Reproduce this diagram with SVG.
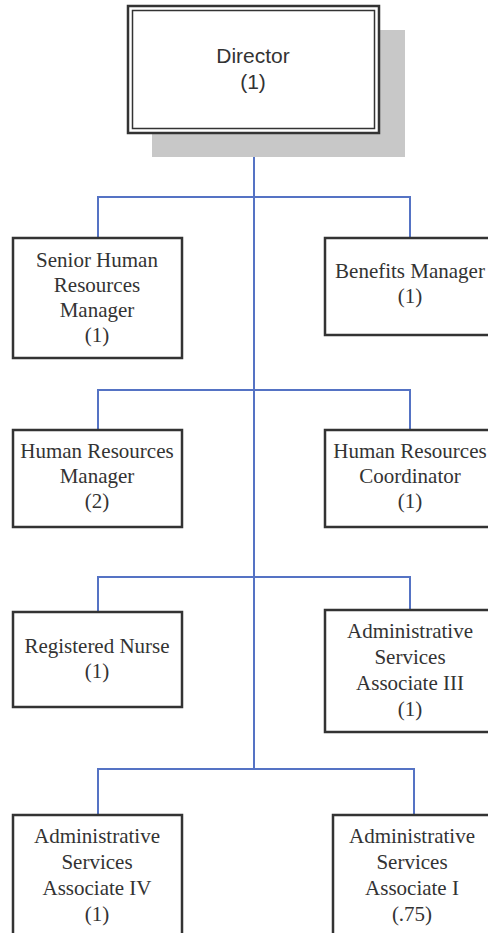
<svg xmlns="http://www.w3.org/2000/svg" width="488" height="933" viewBox="0 0 488 933">
  <style>
    .box { fill: #ffffff; stroke: #333333; stroke-width: 2.5; }
    .conn { fill: none; stroke: #5573c4; stroke-width: 2; }
    .t { font-family: "Liberation Serif", "Times New Roman", serif; font-size: 21px; fill: #333333; text-anchor: middle; }
    .ts { font-family: "Liberation Sans", Arial, sans-serif; font-size: 21px; fill: #333333; text-anchor: middle; }
  </style>
  <rect width="488" height="933" fill="#ffffff"/>

  <!-- connectors -->
  <g id="connectors">
    <path class="conn" d="M254 133 V769"/>
    <path class="conn" d="M98 238 V197 H410 V238"/>
    <path class="conn" d="M98 430 V390 H410 V430"/>
    <path class="conn" d="M98 612 V577 H410 V610"/>
    <path class="conn" d="M98 815 V769 H414 V815"/>
  </g>

  <!-- Director -->
  <g id="director">
    <rect x="152" y="30" width="253" height="127" fill="#c8c8c8"/>
    <rect x="128" y="6" width="251" height="127" fill="#ffffff" stroke="#333333" stroke-width="2.5"/>
    <rect x="132.5" y="10.5" width="242" height="118" fill="none" stroke="#333333" stroke-width="1.5"/>
    <text class="ts" x="253" y="63">Director</text>
    <text class="ts" x="253" y="89">(1)</text>
  </g>

  <g id="senior-hr-manager">
    <rect class="box" x="13" y="238" width="169" height="120"/>
    <text class="t" x="97" y="267">Senior Human</text>
    <text class="t" x="97" y="292">Resources</text>
    <text class="t" x="97" y="317">Manager</text>
    <text class="t" x="97" y="342">(1)</text>
  </g>

  <g id="benefits-manager">
    <rect class="box" x="325" y="238" width="170" height="97"/>
    <text class="t" x="410" y="278">Benefits Manager</text>
    <text class="t" x="410" y="303">(1)</text>
  </g>

  <g id="hr-manager">
    <rect class="box" x="13" y="430" width="169" height="97"/>
    <text class="t" x="97" y="458">Human Resources</text>
    <text class="t" x="97" y="483">Manager</text>
    <text class="t" x="97" y="508">(2)</text>
  </g>

  <g id="hr-coordinator">
    <rect class="box" x="325" y="430" width="170" height="97"/>
    <text class="t" x="410" y="458">Human Resources</text>
    <text class="t" x="410" y="483">Coordinator</text>
    <text class="t" x="410" y="508">(1)</text>
  </g>

  <g id="registered-nurse">
    <rect class="box" x="13" y="612" width="169" height="95"/>
    <text class="t" x="97" y="653">Registered Nurse</text>
    <text class="t" x="97" y="678">(1)</text>
  </g>

  <g id="asa-iii">
    <rect class="box" x="325" y="610" width="170" height="122"/>
    <text class="t" x="410" y="638">Administrative</text>
    <text class="t" x="410" y="664">Services</text>
    <text class="t" x="410" y="690">Associate III</text>
    <text class="t" x="410" y="716">(1)</text>
  </g>

  <g id="asa-iv">
    <rect class="box" x="13" y="815" width="169" height="130"/>
    <text class="t" x="97" y="843">Administrative</text>
    <text class="t" x="97" y="869">Services</text>
    <text class="t" x="97" y="895">Associate IV</text>
    <text class="t" x="97" y="921">(1)</text>
  </g>

  <g id="asa-i">
    <rect class="box" x="333" y="815" width="170" height="130"/>
    <text class="t" x="412" y="843">Administrative</text>
    <text class="t" x="412" y="869">Services</text>
    <text class="t" x="412" y="895">Associate I</text>
    <text class="t" x="412" y="921">(.75)</text>
  </g>
</svg>
